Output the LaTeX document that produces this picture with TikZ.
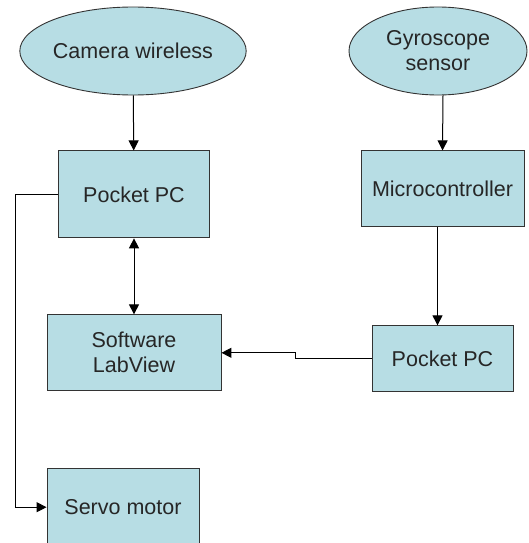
\documentclass[tikz,border=0pt]{standalone}
\usepackage{fontspec}
\setmainfont{Liberation Sans}
\usetikzlibrary{arrows.meta, positioning, shapes.geometric}
\definecolor{boxfill}{RGB}{183,221,228}

\begin{document}
\begin{tikzpicture}[
      x=1pt, y=-1pt,
      node distance=55pt,
      block/.style={draw=black!80, fill=boxfill, align=center, inner sep=0pt, line width=0.9pt, text=black!85, font=\fontsize{21.5}{25}\selectfont},
      source/.style={ellipse, draw=black!80, fill=boxfill, align=center, inner sep=0pt, line width=0.9pt, text=black!85, font=\fontsize{21.5}{25}\selectfont},
      >={Triangle[length=10pt, width=10pt]},
      line width=1pt
    ]
    \useasboundingbox (0,0) rectangle (528,543);
    \node[source, minimum width=196pt, minimum height=88pt] (camera) at (133,51) {Camera wireless};
    \node[source, minimum width=178pt, minimum height=88pt] (gyro) at (438,51) {Gyroscope\\sensor};
    \node[block, minimum width=151pt, minimum height=87pt, below=of camera, xshift=1pt] (pocketL) {Pocket PC};
    \node[block, minimum width=174pt, minimum height=76pt, below=76pt of pocketL] (labview) {Software\\LabView};
    \node[block, minimum width=152pt, minimum height=77pt, below=77pt of labview, xshift=-11pt] (servo) {Servo motor};
    \node[block, minimum width=163pt, minimum height=76pt, below=of gyro, xshift=4.5pt] (micro) {Microcontroller};
    \node[block, minimum width=141pt, minimum height=66pt, below=98pt of micro] (pocketR) {Pocket PC};

    \draw[->] (camera) -- (pocketL);
    \draw[<->] (pocketL) -- (labview);
    \draw[->] ([xshift=5pt]gyro.south) -- (micro.north);
    \draw[->] ([xshift=-5pt]micro.south) -- ([xshift=-5pt]pocketR.north);
    \draw[->] (pocketR.west) -- ++(-76,0) |- (labview.east);
    \draw[->] (pocketL.west) -- ++(-43,0) |- (servo.west);
  \end{tikzpicture}
\end{document}
